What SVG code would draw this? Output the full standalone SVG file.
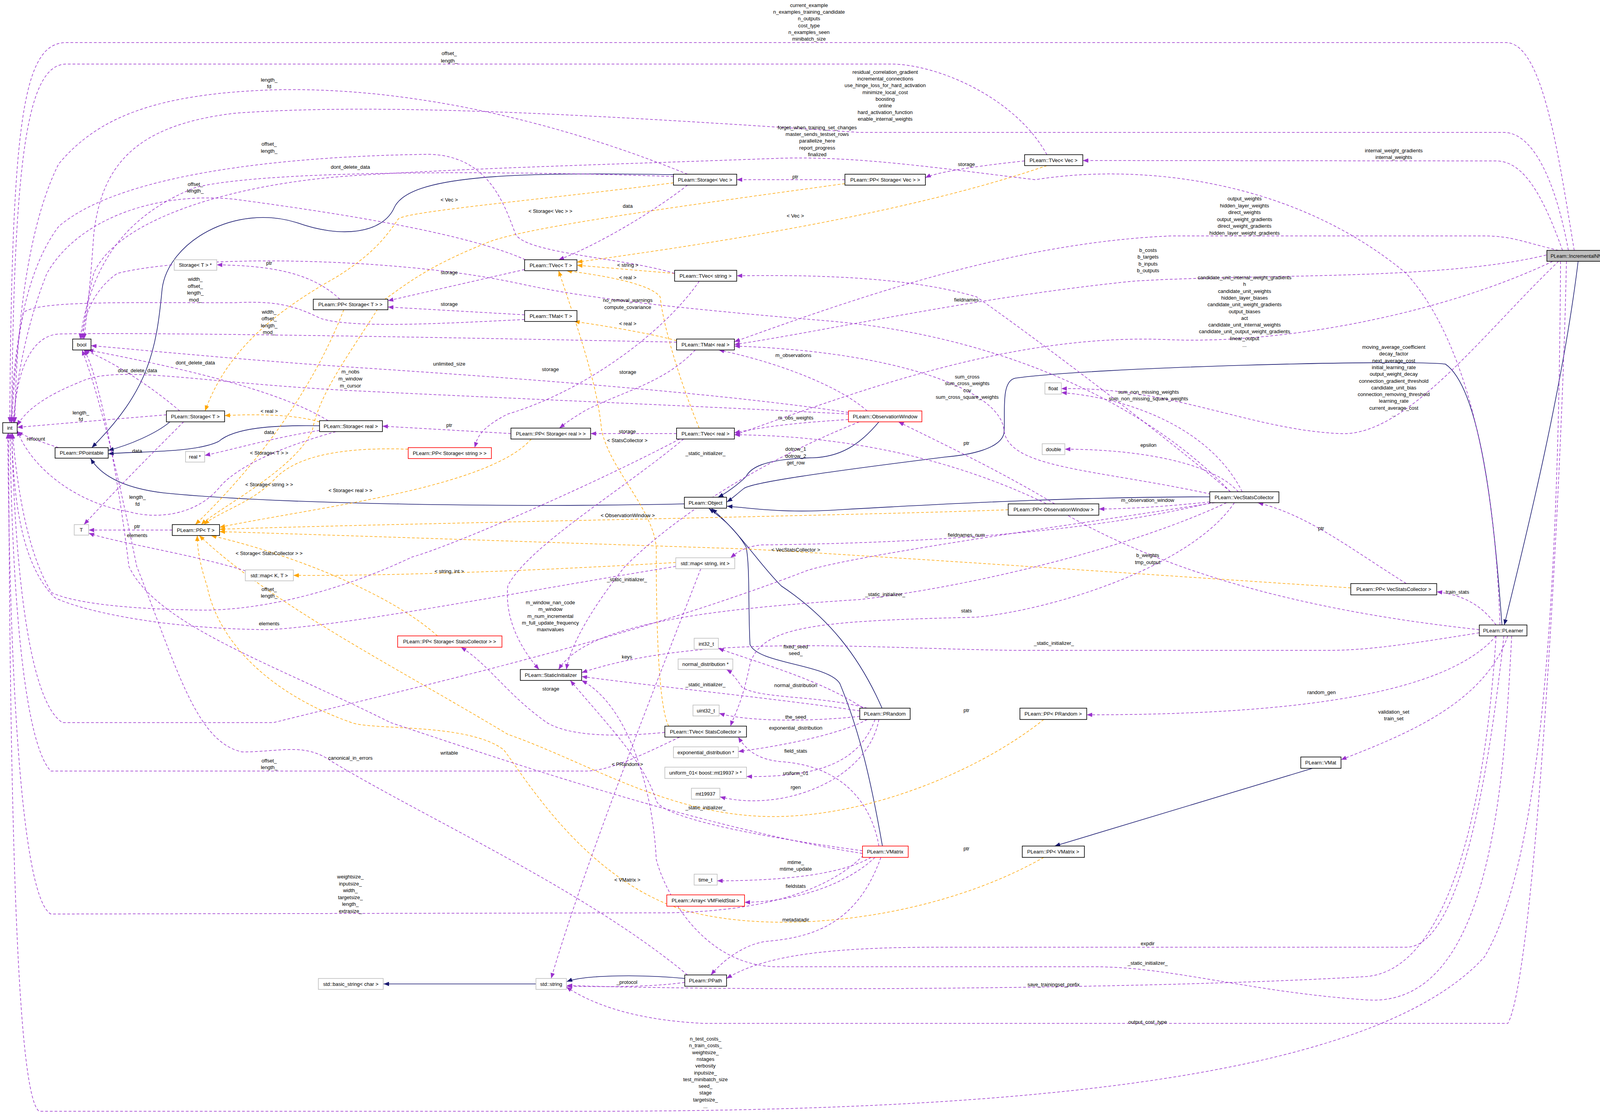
<svg xmlns="http://www.w3.org/2000/svg" width="4136" height="2852" viewBox="0 0 4136 2852">
<style>
text{font-family:"Liberation Sans",Arial,sans-serif;font-size:13px;fill:#000;text-anchor:middle}
.b{fill:#fff;stroke:#000;stroke-width:1.6}
.g{fill:#fff;stroke:#bfbfbf;stroke-width:1.6}
.r{fill:#fff;stroke:#ff0000;stroke-width:1.6}
.f{fill:#bfbfbf;stroke:#000;stroke-width:1.6}
.p{fill:none;stroke:#9a32cd;stroke-width:1.5;stroke-dasharray:7,5;marker-end:url(#mp)}
.o{fill:none;stroke:#ffa500;stroke-width:1.5;stroke-dasharray:7,5;marker-end:url(#mo)}
.i{fill:none;stroke:#191970;stroke-width:1.6;marker-end:url(#mi)}
</style>
<defs>
<marker id="mp" markerUnits="userSpaceOnUse" markerWidth="14" markerHeight="11" refX="14" refY="5.5" orient="auto"><path d="M0,0L14,5.5L0,11z" fill="#9a32cd"/></marker>
<marker id="mo" markerUnits="userSpaceOnUse" markerWidth="14" markerHeight="11" refX="14" refY="5.5" orient="auto"><path d="M0,0L14,5.5L0,11z" fill="#ffa500"/></marker>
<marker id="mi" markerUnits="userSpaceOnUse" markerWidth="14" markerHeight="11" refX="14" refY="5.5" orient="auto"><path d="M0,0L14,5.5L0,11z" fill="#191970"/></marker>
</defs>
<rect width="4136" height="2852" fill="#fff"/>
<g id="connectors">
<path class="i" d="M1724,447 C1300,440 1050,450 1010,530 C980,600 870,610 760,570 C600,520 430,620 415,740 C400,900 380,1000 235,1146"/>
<path class="i" d="M435,1080 C400,1110 330,1140 277,1153"/>
<path class="i" d="M818,1090 C700,1088 600,1095 560,1130 C500,1160 350,1155 277,1162"/>
<path class="i" d="M1752,1290 C1300,1300 700,1290 420,1262 C320,1250 260,1220 232,1174"/>
<path class="i" d="M2250,1080 C2200,1140 2150,1170 2080,1172 C1950,1175 1920,1200 1910,1220 C1890,1240 1860,1262 1838,1273"/>
<path class="i" d="M3097,1272 C2800,1272 2500,1285 2150,1305 C2000,1315 1920,1300 1861,1296"/>
<path class="i" d="M3845,1600 C3830,1400 3800,1000 3700,932 C3600,920 2800,940 2600,968 C2560,975 2575,1060 2570,1110 C2560,1150 2480,1165 2420,1170 C2100,1210 1930,1235 1905,1250 C1880,1270 1872,1278 1861,1285"/>
<path class="i" d="M2258,1813 C2200,1680 2120,1580 2000,1500 C1940,1440 1900,1370 1822,1302"/>
<path class="i" d="M2259,2166 C2230,2000 2200,1870 2150,1750 C2120,1700 1940,1700 1920,1650 C1915,1550 1920,1450 1910,1400 C1880,1350 1840,1320 1815,1302"/>
<path class="i" d="M1753,2505 C1650,2495 1500,2495 1451,2513"/>
<path class="i" d="M1372,2519 L982,2519"/>
<path class="i" d="M3360,1967 L2700,2166"/>
<path class="i" d="M4040,669 C4000,1000 3900,1400 3851,1600"/>
<path class="o" d="M1724,468 C1400,510 1050,540 1020,560 C980,620 940,660 860,710 C700,800 580,900 525,1052"/>
<path class="o" d="M2163,470 C1800,520 1350,580 1250,620 C1100,680 1050,720 980,770 C900,900 820,1000 800,1100 C760,1200 560,1300 515,1343"/>
<path class="o" d="M2680,424 C2400,520 2000,600 1477,671"/>
<path class="o" d="M1727,700 L1477,679"/>
<path class="o" d="M1790,1096 C1750,1000 1700,850 1690,760 C1660,720 1500,700 1450,693"/>
<path class="o" d="M1732,872 C1650,850 1520,830 1470,823"/>
<path class="o" d="M818,1080 C750,1060 650,1060 575,1064"/>
<path class="o" d="M1360,1124 C1250,1250 800,1300 562,1350"/>
<path class="o" d="M1045,1150 C900,1145 760,1160 700,1230 C640,1290 560,1310 522,1343"/>
<path class="o" d="M2581,1305 C2200,1320 1000,1340 562,1355"/>
<path class="o" d="M3458,1505 C3000,1475 2200,1420 1900,1405 C1300,1385 700,1365 562,1361"/>
<path class="o" d="M1730,1440 C1400,1460 1000,1475 751,1473"/>
<path class="o" d="M1120,1628 C1000,1520 750,1420 540,1371"/>
<path class="o" d="M1712,1859 C1680,1800 1680,1500 1680,1400 C1670,1300 1560,1200 1540,1100 C1530,1000 1500,900 1430,693"/>
<path class="o" d="M2672,1842 C2500,1980 2200,2100 1950,2090 C1700,2080 1500,1950 1300,1880 C1000,1700 700,1550 510,1371"/>
<path class="o" d="M2672,2195 C2400,2350 2000,2400 1750,2330 C1500,2250 1350,2000 1290,1920 C1200,1850 950,1870 900,1850 C700,1780 560,1650 530,1500 C510,1440 505,1400 505,1371"/>
<path class="o" d="M880,793 C820,950 700,1150 500,1343"/>
<path class="p" d="M4030,641 C3990,400 3950,109 3855,109 L170,109 C60,109 30,300 25,1082"/>
<path class="p" d="M2680,396 C2600,250 2400,164 2280,164 L170,164 C70,164 35,400 30,1082"/>
<path class="p" d="M4015,641 C3980,450 3920,339 3850,339 L2200,339 C1600,300 1000,260 600,290 C350,320 260,420 240,600 C230,750 220,820 215,868"/>
<path class="p" d="M4000,641 C3950,500 3900,412 3830,412 L2772,411"/>
<path class="p" d="M3990,641 C3900,620 3870,604 3800,604 L3000,604 C2600,620 2200,760 1880,875"/>
<path class="p" d="M3970,650 C3700,720 3200,700 2900,720 C2500,760 2100,850 1880,882"/>
<path class="p" d="M3975,669 C3700,800 3300,880 3000,870 C2600,850 2200,1000 1880,1114"/>
<path class="p" d="M3990,669 C3800,850 3600,1120 3430,1110 C3200,1100 3000,990 2717,995"/>
<path class="p" d="M4010,669 C4000,1200 3930,2500 3860,2620 L1800,2620 C1600,2610 1500,2560 1450,2527"/>
<path class="p" d="M3995,669 C3990,1500 3950,2200 3800,2450 C3500,2780 2500,2845 1500,2845 L100,2845 C40,2800 25,2000 22,1109"/>
<path class="p" d="M3840,1600 C3830,1300 3780,900 3600,700 C3300,450 2900,420 2650,460 C2400,430 2200,400 2000,405 C1600,420 1200,430 900,450 C600,470 300,560 240,700 C220,780 215,830 212,868"/>
<path class="p" d="M3830,1600 C3800,1560 3760,1525 3678,1515"/>
<path class="p" d="M3787,1612 C3300,1560 2950,1450 2700,1300 C2400,1150 2100,1115 1880,1113"/>
<path class="p" d="M3787,1620 C3600,1650 3500,1665 3400,1665 L2600,1665 C2200,1660 1800,1620 1489,1722"/>
<path class="p" d="M3830,1628 C3700,1780 3300,1830 2782,1830"/>
<path class="p" d="M3860,1628 C3800,1800 3600,1880 3433,1945"/>
<path class="p" d="M3850,1628 C3820,1900 3750,2425 3600,2425 L2400,2425 C2100,2425 1950,2450 1860,2505"/>
<path class="p" d="M3870,1628 C3850,2000 3820,2580 3500,2560 C3200,2540 3000,2475 2800,2475 L2000,2475 C1800,2480 1700,2280 1680,2200 C1670,2000 1600,1800 1489,1742"/>
<path class="p" d="M3830,1628 C3800,2100 3700,2480 3500,2500 C3000,2530 2000,2540 1451,2523"/>
<path class="p" d="M3180,1259 C3100,1100 2900,1020 2717,1005"/>
<path class="p" d="M3170,1259 C3100,1180 2900,1150 2726,1150"/>
<path class="p" d="M3100,1265 C2800,1200 2580,1200 2570,1100 C2560,1000 2300,900 1880,886"/>
<path class="p" d="M3150,1259 C2900,1050 2600,830 2500,760 C2300,700 2000,705 1886,706"/>
<path class="p" d="M3097,1285 C3000,1295 2900,1303 2813,1303"/>
<path class="p" d="M3100,1287 C2800,1360 2400,1390 1950,1395 C1900,1400 1880,1420 1870,1428"/>
<path class="p" d="M3160,1287 C3050,1450 2700,1560 2500,1580 C2100,1590 1950,1600 1920,1700 C1900,1800 1880,1830 1870,1859"/>
<path class="p" d="M3140,1287 C2900,1400 2500,1500 2200,1535 C1800,1560 1500,1600 1430,1714"/>
<path class="p" d="M3110,1287 C2700,1350 2200,1420 2068,1460 C1600,1640 1100,1750 700,1850 L160,1850 C80,1800 40,1500 30,1109"/>
<path class="p" d="M3150,1259 C2900,1000 2500,850 2100,820 C1500,770 1400,740 1300,720 C1000,660 500,650 300,700 C230,750 215,820 208,868"/>
<path class="p" d="M1740,1124 C1500,1250 1150,1400 1055,1426 C900,1500 700,1560 528,1562 C300,1560 180,1540 132,1517 C60,1400 40,1200 32,1109"/>
<path class="p" d="M1740,1887 C1650,1930 1560,1974 1500,1974 L130,1974 C60,1900 30,1500 26,1109"/>
<path class="p" d="M2210,2190 C2100,2300 1900,2335 1700,2337 L130,2340 C60,2300 25,1800 20,1109"/>
<path class="p" d="M2220,1052 C2150,990 2000,930 1840,896"/>
<path class="p" d="M2172,1074 C2000,1085 1950,1095 1880,1108"/>
<path class="p" d="M2172,1060 C1800,1040 1300,1020 900,1000 C500,980 300,930 200,980 C100,1020 60,1060 44,1090"/>
<path class="p" d="M2172,1056 C1800,1000 1200,960 900,940 C600,920 300,890 233,885"/>
<path class="p" d="M2200,1080 C1900,1200 1700,1350 1600,1450 C1520,1550 1460,1650 1450,1714"/>
<path class="p" d="M1780,896 C1700,980 1600,1000 1500,1050 C1450,1080 1440,1090 1432,1096"/>
<path class="p" d="M1732,876 C1200,865 400,850 150,855 C80,860 40,950 36,1082"/>
<path class="p" d="M1343,806 L993,786"/>
<path class="p" d="M1343,818 C1100,830 900,840 820,815 C750,780 700,770 600,775 C300,775 100,770 60,800 C40,900 35,1000 30,1082"/>
<path class="p" d="M1343,690 L993,770"/>
<path class="p" d="M1345,665 C1200,600 900,550 600,510 C400,490 200,560 120,700 C60,850 40,1000 34,1082"/>
<path class="p" d="M870,766 C800,700 700,680 555,678"/>
<path class="p" d="M426,1062 L44,1094"/>
<path class="p" d="M460,1052 C400,1000 300,930 215,896"/>
<path class="p" d="M470,1080 C400,1150 300,1250 215,1343"/>
<path class="p" d="M840,1077 C700,990 400,930 225,896"/>
<path class="p" d="M860,1105 C700,1150 600,1200 560,1250 C500,1320 400,1330 330,1310 C200,1290 80,1200 44,1102"/>
<path class="p" d="M830,1100 C700,1120 600,1150 524,1166"/>
<path class="p" d="M1308,1110 L979,1091"/>
<path class="p" d="M1732,1110 L1512,1110"/>
<path class="p" d="M1750,1124 C1600,1250 1350,1400 1300,1500 C1290,1600 1350,1680 1380,1714"/>
<path class="p" d="M1790,720 C1700,850 1500,1000 1300,1060 C1220,1100 1220,1130 1215,1146"/>
<path class="p" d="M1727,700 C1600,660 1350,650 1320,600 C1290,520 1250,400 1100,395 C700,400 300,450 150,580 C60,700 35,900 28,1082"/>
<path class="p" d="M2623,412 C2500,425 2400,440 2369,455"/>
<path class="p" d="M2163,460 L1886,460"/>
<path class="p" d="M1760,474 C1650,560 1500,640 1430,665"/>
<path class="p" d="M1760,446 C1500,340 1100,220 700,230 C400,240 250,300 150,420 C60,600 40,900 38,1082"/>
<path class="p" d="M1724,452 C1400,440 700,430 500,480 C300,560 230,700 205,868"/>
<path class="p" d="M3600,1494 C3450,1400 3350,1320 3220,1287"/>
<path class="p" d="M2700,1290 C2550,1200 2400,1130 2300,1080"/>
<path class="p" d="M2210,1813 C2100,1740 1950,1700 1839,1660"/>
<path class="p" d="M2220,1813 C2100,1780 1950,1790 1900,1760 C1880,1730 1870,1720 1860,1714"/>
<path class="p" d="M2201,1820 C2000,1790 1700,1760 1489,1732"/>
<path class="p" d="M2201,1834 C2050,1850 1900,1845 1841,1826"/>
<path class="p" d="M2220,1842 C2150,1880 2000,1910 1890,1924"/>
<path class="p" d="M2240,1842 C2200,1950 2100,1990 1911,1988"/>
<path class="p" d="M2250,1842 C2220,2000 2000,2080 1843,2040"/>
<path class="p" d="M2230,2195 C2150,2240 2000,2255 1836,2255"/>
<path class="p" d="M2240,2195 C2150,2280 2000,2310 1906,2310"/>
<path class="p" d="M2250,2166 C2230,2050 2150,1960 2000,1950 C1940,1945 1910,1920 1890,1887"/>
<path class="p" d="M2255,2195 C2200,2350 2100,2400 1960,2410 C1900,2420 1850,2460 1820,2496"/>
<path class="p" d="M2208,2178 C2000,2150 1700,2100 1680,2050 C1650,1950 1550,1850 1460,1742"/>
<path class="p" d="M2208,2185 C1800,2120 1300,1950 1000,1850 C700,1700 400,1600 330,1450 C300,1200 250,950 215,896"/>
<path class="p" d="M1753,2515 C1650,2530 1500,2525 1451,2525"/>
<path class="p" d="M1760,2496 C1500,2280 1100,2100 850,1950 C780,1900 720,1925 620,1925 C500,1900 450,1700 350,1450 C300,1200 250,1000 210,896"/>
<path class="p" d="M1702,1875 C1550,1890 1450,1880 1400,1850 C1300,1780 1250,1700 1180,1657"/>
<path class="p" d="M1794,1456 C1700,1700 1500,2200 1411,2505"/>
<path class="p" d="M640,1465 C500,1420 300,1390 227,1365"/>
<path class="p" d="M1730,1450 C1300,1520 900,1600 689,1612 C400,1610 200,1560 140,1530 C60,1450 35,1300 30,1109"/>
<path class="p" d="M441,1357 L227,1357"/>
<path class="p" d="M150,1146 C100,1130 60,1115 44,1105"/>
<text x="2071" y="18">current_example<tspan x="2071" dy="17.2">n_examples_training_candidate</tspan><tspan x="2071" dy="17.2">n_outputs</tspan><tspan x="2071" dy="17.2">cost_type</tspan><tspan x="2071" dy="17.2">n_examples_seen</tspan><tspan x="2071" dy="17.2">minibatch_size</tspan></text>
<text x="1150" y="141">offset_<tspan x="1150" dy="19">length_</tspan></text>
<text x="2266" y="189">residual_correlation_gradient<tspan x="2266" dy="17.2">incremental_connections</tspan><tspan x="2266" dy="17.2">use_hinge_loss_for_hard_activation</tspan><tspan x="2266" dy="17.2">minimize_local_cost</tspan><tspan x="2266" dy="17.2">boosting</tspan><tspan x="2266" dy="17.2">online</tspan><tspan x="2266" dy="17.2">hard_activation_function</tspan><tspan x="2266" dy="17.2">enable_internal_weights</tspan></text>
<text x="689" y="209">length_<tspan x="689" dy="17">fd</tspan></text>
<text x="2092" y="331">forget_when_training_set_changes<tspan x="2092" dy="17.2">master_sends_testset_rows</tspan><tspan x="2092" dy="17.2">parallelize_here</tspan><tspan x="2092" dy="17.2">report_progress</tspan><tspan x="2092" dy="17.2">finalized</tspan></text>
<text x="3568" y="390">internal_weight_gradients<tspan x="3568" dy="17.2">internal_weights</tspan></text>
<text x="689" y="373">offset_<tspan x="689" dy="18">length_</tspan></text>
<text x="897" y="432">dont_delete_data</text>
<text x="2474" y="425">storage</text>
<text x="2036" y="457">ptr</text>
<text x="500" y="476">offset_<tspan x="500" dy="17">length_</tspan></text>
<text x="3186" y="513">output_weights<tspan x="3186" dy="17.5">hidden_layer_weights</tspan><tspan x="3186" dy="17.5">direct_weights</tspan><tspan x="3186" dy="17.5">output_weight_gradients</tspan><tspan x="3186" dy="17.5">direct_weight_gradients</tspan><tspan x="3186" dy="17.5">hidden_layer_weight_gradients</tspan></text>
<text x="1150" y="516">&lt; Vec &gt;</text>
<text x="1607" y="532">data</text>
<text x="1409" y="545">&lt; Storage&lt; Vec &gt; &gt;</text>
<text x="2036" y="557">&lt; Vec &gt;</text>
<text x="2939" y="645">b_costs<tspan x="2939" dy="17.3">b_targets</tspan><tspan x="2939" dy="17.3">b_inputs</tspan><tspan x="2939" dy="17.3">b_outputs</tspan></text>
<text x="689" y="678">ptr</text>
<text x="1607" y="683">&lt; string &gt;</text>
<text x="1150" y="702">storage</text>
<text x="1607" y="715">&lt; real &gt;</text>
<text x="3186" y="715">candidate_unit_internal_weight_gradients<tspan x="3186" dy="17.3">h</tspan><tspan x="3186" dy="17.3">candidate_unit_weights</tspan><tspan x="3186" dy="17.3">hidden_layer_biases</tspan><tspan x="3186" dy="17.3">candidate_unit_weight_gradients</tspan><tspan x="3186" dy="17.3">output_biases</tspan><tspan x="3186" dy="17.3">act</tspan><tspan x="3186" dy="17.3">candidate_unit_internal_weights</tspan><tspan x="3186" dy="17.3">candidate_unit_output_weight_gradients</tspan><tspan x="3186" dy="17.3">linear_output</tspan><tspan x="3186" dy="17.3">...</tspan></text>
<text x="500" y="719">width_<tspan x="500" dy="17.5">offset_</tspan><tspan x="500" dy="17.5">length_</tspan><tspan x="500" dy="17.5">mod_</tspan></text>
<text x="2474" y="772">fieldnames</text>
<text x="1607" y="773">no_removal_warnings<tspan x="1607" dy="18">compute_covariance</tspan></text>
<text x="1150" y="783">storage</text>
<text x="689" y="803">width_<tspan x="689" dy="17.3">offset_</tspan><tspan x="689" dy="17.3">length_</tspan><tspan x="689" dy="17.3">mod_</tspan></text>
<text x="1607" y="833">&lt; real &gt;</text>
<text x="3568" y="893">moving_average_coefficient<tspan x="3568" dy="17.3">decay_factor</tspan><tspan x="3568" dy="17.3">next_average_cost</tspan><tspan x="3568" dy="17.3">initial_learning_rate</tspan><tspan x="3568" dy="17.3">output_weight_decay</tspan><tspan x="3568" dy="17.3">connection_gradient_threshold</tspan><tspan x="3568" dy="17.3">candidate_unit_bias</tspan><tspan x="3568" dy="17.3">connection_removing_threshold</tspan><tspan x="3568" dy="17.3">learning_rate</tspan><tspan x="3568" dy="17.3">current_average_cost</tspan><tspan x="3568" dy="17.3">...</tspan></text>
<text x="2031" y="914">m_observations</text>
<text x="1150" y="936">unlimited_size</text>
<text x="1409" y="950">storage</text>
<text x="1607" y="957">storage</text>
<text x="352" y="953">dont_delete_data</text>
<text x="500" y="933">dont_delete_data</text>
<text x="897" y="956">m_nobs<tspan x="897" dy="18">m_window</tspan><tspan x="897" dy="18">m_cursor</tspan></text>
<text x="2476" y="969">sum_cross<tspan x="2476" dy="17.3">sum_cross_weights</tspan><tspan x="2476" dy="17.3">cov</tspan><tspan x="2476" dy="17.3">sum_cross_square_weights</tspan></text>
<text x="2940" y="1008">sum_non_missing_weights<tspan x="2940" dy="17.3">sum_non_missing_square_weights</tspan></text>
<text x="207" y="1061">length_<tspan x="207" dy="17">fd</tspan></text>
<text x="689" y="1057">&lt; real &gt;</text>
<text x="2037" y="1074">m_obs_weights</text>
<text x="1150" y="1093">ptr</text>
<text x="1606" y="1109">storage</text>
<text x="689" y="1111">data</text>
<text x="1606" y="1132">&lt; StatsCollector &gt;</text>
<text x="92" y="1128">refcount</text>
<text x="2474" y="1139">ptr</text>
<text x="2940" y="1144">epsilon</text>
<text x="351" y="1159">data</text>
<text x="689" y="1164">&lt; Storage&lt; T &gt; &gt;</text>
<text x="1806" y="1165">_static_initializer_</text>
<text x="2037" y="1154">dotrow_1<tspan x="2037" dy="17.5">dotrow_2</tspan><tspan x="2037" dy="17.5">get_row</tspan></text>
<text x="689" y="1245">&lt; Storage&lt; string &gt; &gt;</text>
<text x="897" y="1260">&lt; Storage&lt; real &gt; &gt;</text>
<text x="352" y="1277">length_<tspan x="352" dy="18">fd</tspan></text>
<text x="2938" y="1285">m_observation_window</text>
<text x="1607" y="1324">&lt; ObservationWindow &gt;</text>
<text x="351" y="1352">ptr</text>
<text x="351" y="1375">elements</text>
<text x="3382" y="1357">ptr</text>
<text x="2474" y="1374">fieldnames_num</text>
<text x="2037" y="1412">&lt; VecStatsCollector &gt;</text>
<text x="2938" y="1426">b_weights<tspan x="2938" dy="18">tmp_output</tspan></text>
<text x="689" y="1421">&lt; Storage&lt; StatsCollector &gt; &gt;</text>
<text x="1150" y="1467">&lt; string, int &gt;</text>
<text x="1605" y="1488">_static_initializer_</text>
<text x="689" y="1513">offset_<tspan x="689" dy="17">length_</tspan></text>
<text x="3731" y="1520">train_stats</text>
<text x="2266" y="1526">_static_initializer_</text>
<text x="1409" y="1547">m_window_nan_code<tspan x="1409" dy="17.3">m_window</tspan><tspan x="1409" dy="17.3">m_num_incremental</tspan><tspan x="1409" dy="17.3">m_full_update_frequency</tspan><tspan x="1409" dy="17.3">maxnvalues</tspan></text>
<text x="2474" y="1568">stats</text>
<text x="689" y="1601">elements</text>
<text x="2698" y="1651">_static_initializer_</text>
<text x="2037" y="1660">fixed_seed<tspan x="2037" dy="17">seed_</tspan></text>
<text x="1605" y="1686">keys</text>
<text x="1806" y="1757">_static_initializer_</text>
<text x="2037" y="1759">normal_distribution</text>
<text x="1410" y="1768">storage</text>
<text x="3383" y="1777">random_gen</text>
<text x="3568" y="1827">validation_set<tspan x="3568" dy="17.3">train_set</tspan></text>
<text x="2474" y="1823">ptr</text>
<text x="2037" y="1840">the_seed</text>
<text x="2037" y="1868">exponential_distribution</text>
<text x="2037" y="1927">field_stats</text>
<text x="1150" y="1932">writable</text>
<text x="897" y="1945">canonical_in_errors</text>
<text x="689" y="1952">offset_<tspan x="689" dy="17">length_</tspan></text>
<text x="1606" y="1961">&lt; PRandom &gt;</text>
<text x="2037" y="1984">uniform_01</text>
<text x="2037" y="2020">rgen</text>
<text x="1806" y="2072">_static_initializer_</text>
<text x="2474" y="2177">ptr</text>
<text x="2037" y="2212">mtime_<tspan x="2037" dy="17">mtime_update</tspan></text>
<text x="897" y="2249">weightsize_<tspan x="897" dy="17.5">inputsize_</tspan><tspan x="897" dy="17.5">width_</tspan><tspan x="897" dy="17.5">targetsize_</tspan><tspan x="897" dy="17.5">length_</tspan><tspan x="897" dy="17.5">extrasize_</tspan></text>
<text x="1606" y="2257">&lt; VMatrix &gt;</text>
<text x="2037" y="2273">fieldstats</text>
<text x="2037" y="2359">metadatadir</text>
<text x="2938" y="2420">expdir</text>
<text x="2938" y="2470">_static_initializer_</text>
<text x="1605" y="2519">_protocol</text>
<text x="2697" y="2525">save_trainingset_prefix</text>
<text x="2938" y="2621">output_cost_type</text>
<text x="1806" y="2664">n_test_costs_<tspan x="1806" dy="17.3">n_train_costs_</tspan><tspan x="1806" dy="17.3">weightsize_</tspan><tspan x="1806" dy="17.3">nstages</tspan><tspan x="1806" dy="17.3">verbosity</tspan><tspan x="1806" dy="17.3">inputsize_</tspan><tspan x="1806" dy="17.3">test_minibatch_size</tspan><tspan x="1806" dy="17.3">seed_</tspan><tspan x="1806" dy="17.3">stage</tspan><tspan x="1806" dy="17.3">targetsize_</tspan><tspan x="1806" dy="17.3">...</tspan></text>
</g>
<g id="nodes">
<g id="n_nnet"><rect class="f" x="3960" y="641" width="170" height="28"/><text x="4040" y="660" style="font-size:12.5px">PLearn::IncrementalNNet</text></g>
<g id="n_int"><rect class="b" x="7" y="1082" width="37" height="27"/><text x="25" y="1100">int</text></g>
<g id="n_bool"><rect class="b" x="186" y="868" width="47" height="28"/><text x="209" y="887">bool</text></g>
<g id="n_pptbl"><rect class="b" x="141" y="1146" width="136" height="27"/><text x="209" y="1164">PLearn::PPointable</text></g>
<g id="n_stptr"><rect class="g" x="446" y="665" width="109" height="27"/><text x="500" y="683">Storage&lt; T &gt; *</text></g>
<g id="n_ppst"><rect class="b" x="802" y="766" width="191" height="27"/><text x="897" y="784">PLearn::PP&lt; Storage&lt; T &gt; &gt;</text></g>
<g id="n_tvect"><rect class="b" x="1343" y="665" width="134" height="28"/><text x="1410" y="684">PLearn::TVec&lt; T &gt;</text></g>
<g id="n_tmatt"><rect class="b" x="1343" y="795" width="134" height="28"/><text x="1410" y="814">PLearn::TMat&lt; T &gt;</text></g>
<g id="n_tvecstr"><rect class="b" x="1727" y="692" width="159" height="28"/><text x="1806" y="711">PLearn::TVec&lt; string &gt;</text></g>
<g id="n_stvec"><rect class="b" x="1724" y="446" width="162" height="28"/><text x="1805" y="465">PLearn::Storage&lt; Vec &gt;</text></g>
<g id="n_tmatreal"><rect class="b" x="1732" y="868" width="148" height="28"/><text x="1806" y="887">PLearn::TMat&lt; real &gt;</text></g>
<g id="n_stt"><rect class="b" x="426" y="1052" width="149" height="28"/><text x="500" y="1071">PLearn::Storage&lt; T &gt;</text></g>
<g id="n_streal"><rect class="b" x="818" y="1077" width="161" height="28"/><text x="898" y="1096">PLearn::Storage&lt; real &gt;</text></g>
<g id="n_realptr"><rect class="g" x="475" y="1156" width="49" height="27"/><text x="499" y="1174">real *</text></g>
<g id="n_ppstreal"><rect class="b" x="1308" y="1096" width="204" height="28"/><text x="1410" y="1115">PLearn::PP&lt; Storage&lt; real &gt; &gt;</text></g>
<g id="n_tvecreal"><rect class="b" x="1732" y="1096" width="148" height="28"/><text x="1806" y="1115">PLearn::TVec&lt; real &gt;</text></g>
<g id="n_ppststr"><rect class="r" x="1045" y="1146" width="213" height="28"/><text x="1151" y="1165">PLearn::PP&lt; Storage&lt; string &gt; &gt;</text></g>
<g id="n_object"><rect class="b" x="1752" y="1273" width="108" height="28"/><text x="1806" y="1292">PLearn::Object</text></g>
<g id="n_t"><rect class="g" x="190" y="1343" width="37" height="27"/><text x="208" y="1361">T</text></g>
<g id="n_ppt"><rect class="b" x="441" y="1343" width="121" height="28"/><text x="501" y="1362">PLearn::PP&lt; T &gt;</text></g>
<g id="n_tvecvec"><rect class="b" x="2623" y="396" width="149" height="28"/><text x="2697" y="415">PLearn::TVec&lt; Vec &gt;</text></g>
<g id="n_ppstvec"><rect class="b" x="2163" y="446" width="206" height="28"/><text x="2266" y="465">PLearn::PP&lt; Storage&lt; Vec &gt; &gt;</text></g>
<g id="n_float"><rect class="g" x="2675" y="980" width="42" height="29"/><text x="2696" y="999">float</text></g>
<g id="n_obswin"><rect class="r" x="2172" y="1052" width="188" height="28"/><text x="2266" y="1071">PLearn::ObservationWindow</text></g>
<g id="n_double"><rect class="g" x="2668" y="1136" width="58" height="28"/><text x="2697" y="1155">double</text></g>
<g id="n_vsc"><rect class="b" x="3097" y="1259" width="177" height="28"/><text x="3185" y="1278">PLearn::VecStatsCollector</text></g>
<g id="n_ppobswin"><rect class="b" x="2581" y="1290" width="232" height="29"/><text x="2697" y="1309">PLearn::PP&lt; ObservationWindow &gt;</text></g>
<g id="n_mapkt"><rect class="g" x="628" y="1459" width="123" height="28"/><text x="689" y="1478">std::map&lt; K, T &gt;</text></g>
<g id="n_mapsi"><rect class="g" x="1730" y="1428" width="151" height="28"/><text x="1805" y="1447">std::map&lt; string, int &gt;</text></g>
<g id="n_ppstsc"><rect class="r" x="1018" y="1628" width="267" height="29"/><text x="1151" y="1647">PLearn::PP&lt; Storage&lt; StatsCollector &gt; &gt;</text></g>
<g id="n_int32"><rect class="g" x="1777" y="1634" width="62" height="28"/><text x="1808" y="1653">int32_t</text></g>
<g id="n_normd"><rect class="g" x="1736" y="1687" width="140" height="27"/><text x="1806" y="1705">normal_distribution *</text></g>
<g id="n_statinit"><rect class="b" x="1332" y="1714" width="157" height="28"/><text x="1410" y="1733">PLearn::StaticInitializer</text></g>
<g id="n_uint32"><rect class="g" x="1774" y="1805" width="67" height="28"/><text x="1807" y="1824">uint32_t</text></g>
<g id="n_tvecsc"><rect class="b" x="1702" y="1859" width="209" height="28"/><text x="1806" y="1878">PLearn::TVec&lt; StatsCollector &gt;</text></g>
<g id="n_expd"><rect class="g" x="1724" y="1912" width="166" height="28"/><text x="1807" y="1931">exponential_distribution *</text></g>
<g id="n_unif"><rect class="g" x="1702" y="1964" width="209" height="29"/><text x="1806" y="1983">uniform_01&lt; boost::mt19937 &gt; *</text></g>
<g id="n_mt"><rect class="g" x="1770" y="2018" width="73" height="28"/><text x="1806" y="2037">mt19937</text></g>
<g id="n_time"><rect class="g" x="1777" y="2238" width="59" height="28"/><text x="1806" y="2257">time_t</text></g>
<g id="n_arrvmf"><rect class="r" x="1707" y="2291" width="199" height="29"/><text x="1806" y="2310">PLearn::Array&lt; VMFieldStat &gt;</text></g>
<g id="n_basicstr"><rect class="g" x="815" y="2505" width="166" height="28"/><text x="898" y="2524">std::basic_string&lt; char &gt;</text></g>
<g id="n_stdstr"><rect class="g" x="1372" y="2505" width="78" height="28"/><text x="1411" y="2524">std::string</text></g>
<g id="n_ppath"><rect class="b" x="1753" y="2496" width="107" height="29"/><text x="1806" y="2515">PLearn::PPath</text></g>
<g id="n_ppvsc"><rect class="b" x="3458" y="1494" width="220" height="29"/><text x="3568" y="1513">PLearn::PP&lt; VecStatsCollector &gt;</text></g>
<g id="n_plearner"><rect class="b" x="3787" y="1600" width="122" height="28"/><text x="3848" y="1619">PLearn::PLearner</text></g>
<g id="n_prandom"><rect class="b" x="2201" y="1813" width="129" height="29"/><text x="2265" y="1832">PLearn::PRandom</text></g>
<g id="n_ppprandom"><rect class="b" x="2611" y="1813" width="171" height="29"/><text x="2696" y="1832">PLearn::PP&lt; PRandom &gt;</text></g>
<g id="n_vmat"><rect class="b" x="3330" y="1938" width="103" height="29"/><text x="3381" y="1957">PLearn::VMat</text></g>
<g id="n_vmatrix"><rect class="r" x="2208" y="2166" width="117" height="29"/><text x="2266" y="2185">PLearn::VMatrix</text></g>
<g id="n_ppvmatrix"><rect class="b" x="2617" y="2166" width="159" height="29"/><text x="2696" y="2185">PLearn::PP&lt; VMatrix &gt;</text></g>
</g>
</svg>
